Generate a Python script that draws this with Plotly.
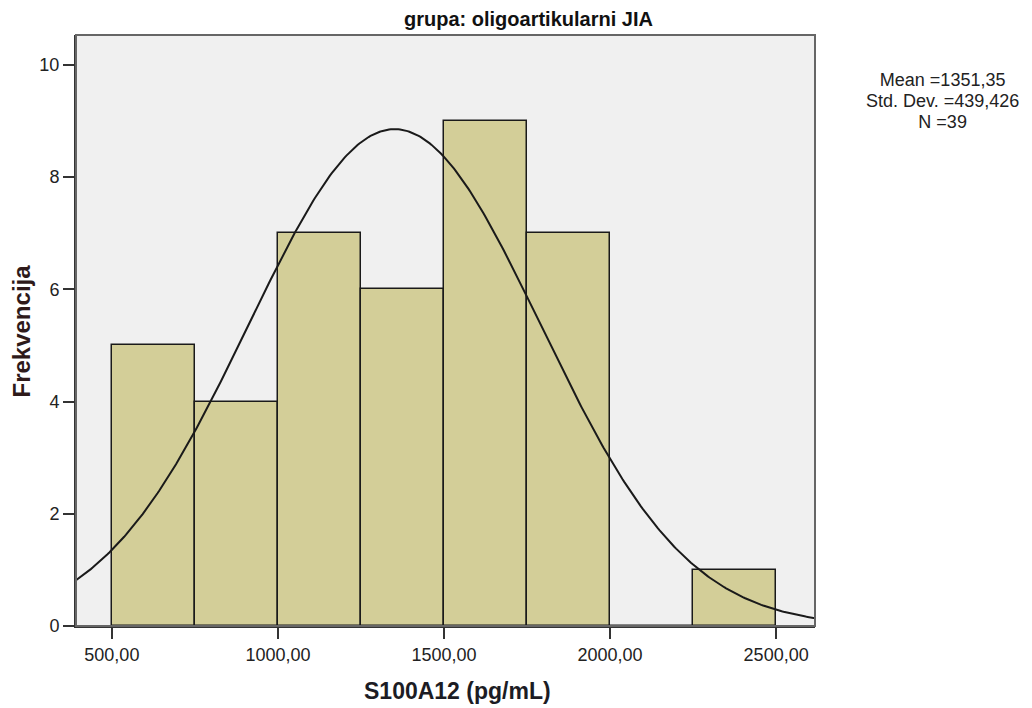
import numpy as np
import plotly.graph_objects as go

# Data
bin_starts = [500, 750, 1000, 1250, 1500, 1750, 2000, 2250]
counts = [5, 4, 7, 6, 9, 7, 0, 1]
bin_width = 250
mean_val = 1351.35
sd_val = 439.426
n_val = 39
x_tick_vals = [500, 1000, 1500, 2000, 2500]
x_tick_text = ["500,00", "1000,00", "1500,00", "2000,00", "2500,00"]
y_tick_vals = [0, 2, 4, 6, 8, 10]
stat_lines = ["Mean =1351,35", "Std. Dev. =439,426", "N =39"]

bar_color = "#D3CE98"
font_family = "Liberation Sans, Arial, sans-serif"

fig = go.Figure()
centers = [b + bin_width / 2 for b in bin_starts]
fig.add_trace(go.Bar(
    x=centers, y=counts, width=[bin_width] * len(counts),
    marker=dict(color=bar_color, line=dict(color="#1a1a1a", width=1.5)),
    showlegend=False, hoverinfo="x+y",
))

# fitted normal curve scaled to counts
xs = np.linspace(392, 2617, 400)
ys = n_val * bin_width / (sd_val * np.sqrt(2 * np.pi)) * np.exp(-0.5 * ((xs - mean_val) / sd_val) ** 2)
fig.add_trace(go.Scatter(x=xs, y=ys, mode="lines", line=dict(color="#1a1a1a", width=2),
                         showlegend=False, hoverinfo="skip"))

stat_text = "<br>".join('<span style="font-size:18px">' + s + "</span>" for s in stat_lines)

annotations = [
    dict(xref="paper", yref="paper", x=0.4411, y=1.027, xanchor="left", yanchor="middle",
         showarrow=False, text="<b>grupa: oligoartikularni JIA</b>",
         font=dict(size=20, color="#111")),
    dict(xref="paper", yref="paper", x=0.516, y=-0.110, xanchor="center", yanchor="middle",
         showarrow=False, text="<b>S100A12 (pg/mL)</b>",
         font=dict(size=23, color="#1c1c24")),
    dict(xref="paper", yref="paper", x=-0.0744, y=(626 - 331.5) / 591, xanchor="center", yanchor="middle",
         showarrow=False, text="<b>Frekvencija</b>", textangle=-90,
         font=dict(size=24, color="#2e1a1a")),
    dict(xref="paper", yref="paper", x=1.173, y=(626 - 101) / 591, xanchor="center", yanchor="middle",
         showarrow=False, align="center", text=stat_text,
         font=dict(size=16.2, color="#222")),
]

fig.update_layout(
    width=1032, height=708,
    margin=dict(l=68, r=225, t=27, b=90),
    paper_bgcolor="white", plot_bgcolor="#F0F0F0",
    font=dict(family=font_family, size=18, color="#222"),
    bargap=0,
    xaxis=dict(range=[392, 2617], tickvals=x_tick_vals, ticktext=x_tick_text,
               showgrid=False, zeroline=False, ticks="outside", ticklen=11, tickwidth=1.5,
               tickcolor="#333", showline=True, linecolor="#333", linewidth=2,
               tickfont=dict(size=18, color="#222")),
    yaxis=dict(range=[0, 10.53], tickvals=y_tick_vals,
               showgrid=False, zeroline=False, ticks="outside", ticklen=11, tickwidth=1.5,
               tickcolor="#333", showline=True, linecolor="#333", linewidth=2,
               tickfont=dict(size=18, color="#222")),
    shapes=[dict(type="rect", xref="paper", yref="paper", x0=0, y0=0, x1=1, y1=1,
                 line=dict(color="#666", width=2), fillcolor="rgba(0,0,0,0)", layer="above")],
    annotations=annotations,
)

fig.write_html("out.html")
